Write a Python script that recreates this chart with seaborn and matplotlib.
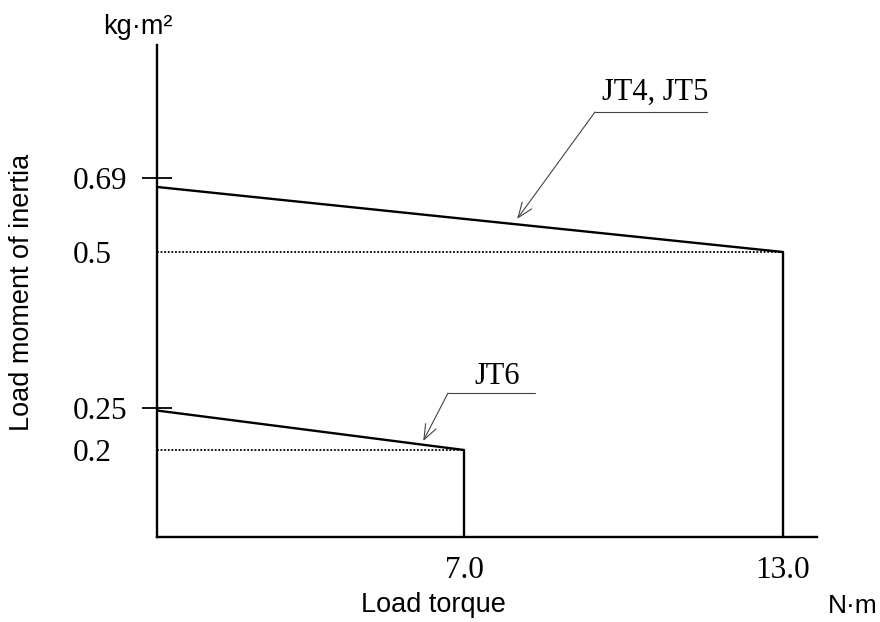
import numpy as np
import pandas as pd
import matplotlib
matplotlib.use("Agg")
import matplotlib.pyplot as plt
import seaborn as sns

# ---- data (schematic chart) ----
x_ticks = [7.0, 13.0]
x_tick_labels = ["7.0", "13.0"]
y_ticks = [0.69, 0.5, 0.25, 0.2]
y_tick_labels = ["0.69", "0.5", "0.25", "0.2"]
y_marked = [0.69, 0.25]

jt45_x = [0.0, 13.0, 13.0]
jt45_y = [0.667, 0.5, 0.0]
jt45_ref_x = [0.0, 13.0]
jt45_ref_y = [0.5, 0.5]

jt6_x = [0.0, 7.0, 7.0]
jt6_y = [0.247, 0.2, 0.0]
jt6_ref_x = [0.0, 7.0]
jt6_ref_y = [0.2, 0.2]

sns.set_theme(style="white")
plt.rcParams['font.family'] = ['Liberation Sans', 'DejaVu Sans']

# schematic (non-proportional) scales
xs_v = [0.0, 7.0, 13.0, 14.0]
xs_p = [0.0, 307.0, 626.0, 660.0]
ys_v = [0.0, 0.2, 0.25, 0.5, 0.69, 0.9]
ys_p = [0.0, 87.0, 129.0, 285.0, 359.0, 492.0]

def xf(v):
    return np.interp(v, xs_v, xs_p)
def xi(p):
    return np.interp(p, xs_p, xs_v)
def yf(v):
    return np.interp(v, ys_v, ys_p)
def yi(p):
    return np.interp(p, ys_p, ys_v)

W, H = 880, 622
fig = plt.figure(figsize=(W / 100, H / 100), dpi=100)
ax = fig.add_axes([157 / W, (H - 537) / H, 660 / W, (537 - 45) / H])
ax.set_xscale('function', functions=(xf, xi))
ax.set_yscale('function', functions=(yf, yi))

lw = 1.7
sns.lineplot(x=jt45_x, y=jt45_y, sort=False, estimator=None, color='black', lw=lw, ax=ax)
sns.lineplot(x=jt6_x, y=jt6_y, sort=False, estimator=None, color='black', lw=lw, ax=ax)
sns.lineplot(x=jt45_ref_x, y=jt45_ref_y, sort=False, estimator=None, color='black',
             lw=1.3, ax=ax, linestyle=(0, (1, 1)))
sns.lineplot(x=jt6_ref_x, y=jt6_ref_y, sort=False, estimator=None, color='black',
             lw=1.3, ax=ax, linestyle=(0, (1, 1)))

ax.set_xlim(0, 14)
ax.set_ylim(0, 0.9)

for s in ['top', 'right']:
    ax.spines[s].set_visible(False)
for s in ['left', 'bottom']:
    ax.spines[s].set_color('black')
    ax.spines[s].set_linewidth(1.7)

serif = ['Liberation Serif', 'DejaVu Serif']
ax.yaxis.remove_overlapping_locs = False
ax.set_xticks(x_ticks)
ax.set_xticklabels(x_tick_labels, family=serif, fontsize=22.5, color='black')
ax.set_yticks(y_ticks)
ax.set_yticklabels(y_tick_labels, family=serif, fontsize=22.5, color='black', ha='left')
ax.set_xticks([], minor=True)
ax.set_yticks(y_marked, minor=True)
ax.tick_params(axis='x', which='major', length=0, pad=14)
ax.tick_params(axis='y', which='major', length=0, pad=61)
ax.tick_params(axis='y', which='minor', direction='inout', length=22, width=1.3,
               color='black', left=True)

ax.set_xlabel("Load torque", fontsize=19.5, color='black', va='center')
ax.xaxis.set_label_coords((433 - 157) / 660, (537 - 605) / 492)
ax.set_ylabel("Load moment of inertia", fontsize=19.5, color='black', va='center')
ax.yaxis.set_label_coords((22 - 157) / 660, (537 - 292) / 492)

ax.text((138 - 157) / 660, (537 - 27) / 492, "kg·m²", transform=ax.transAxes,
        fontsize=19.5, ha='center', va='center', color='black')
ax.text((853 - 157) / 660, (537 - 606) / 492, "N·m", transform=ax.transAxes,
        fontsize=19, ha='center', va='center', color='black')

# annotations
def callout(text, tip, elbow, end, text_xy):
    ax.annotate("", xy=tip, xycoords='data',
                xytext=(elbow[0], H - elbow[1]), textcoords='figure pixels',
                arrowprops=dict(arrowstyle='->,head_length=0.9,head_width=0.35',
                                color='#444444', lw=0.8, shrinkA=0, shrinkB=0))
    fig.add_artist(plt.Line2D([elbow[0] / W, end / W], [(H - elbow[1]) / H] * 2,
                              color='#444444', lw=0.8, transform=fig.transFigure))
    fig.text(text_xy[0] / W, (H - text_xy[1]) / H, text, family=serif, fontsize=22,
             ha='center', va='center', color='black')

callout("JT4, JT5", (8.0, 0.585), (595, 112), 707, (655, 92))
callout("JT6", (6.07, 0.2107), (448, 393), 535, (497, 376))

fig.savefig("out.png", dpi=100)
